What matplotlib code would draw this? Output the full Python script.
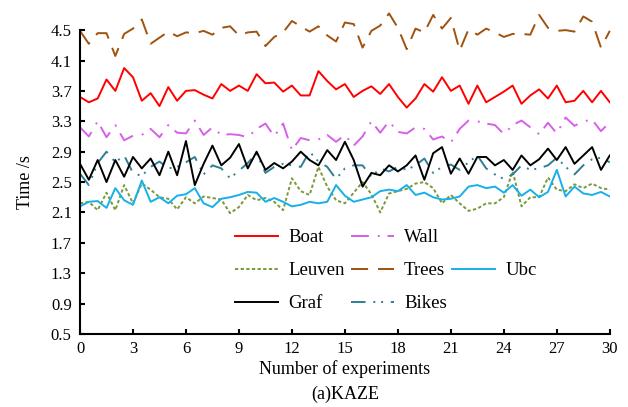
import matplotlib.pyplot as plt
import matplotlib.ticker as mticker
from matplotlib.lines import Line2D
import numpy as np

plt.rcParams['font.family'] = ['Liberation Serif', 'DejaVu Serif']

# experiment index, half steps from 0 to 30
runs = np.linspace(0, 30, 61)

boat = [3.62, 3.55, 3.60, 3.85, 3.70, 4.00, 3.88, 3.57, 3.67, 3.50,
        3.75, 3.57, 3.70, 3.71, 3.65, 3.60, 3.79, 3.70, 3.77, 3.70,
        3.92, 3.80, 3.81, 3.69, 3.77, 3.64, 3.64, 3.96, 3.83, 3.72,
        3.79, 3.62, 3.70, 3.76, 3.66, 3.79, 3.62, 3.48, 3.60, 3.79,
        3.69, 3.88, 3.70, 3.77, 3.53, 3.77, 3.55, 3.62, 3.69, 3.77,
        3.53, 3.64, 3.72, 3.60, 3.77, 3.55, 3.57, 3.70, 3.55, 3.70,
        3.55]
wall = [3.22, 3.10, 3.30, 3.09, 3.25, 3.05, 3.11, 3.12, 3.20, 3.09,
        3.25, 3.15, 3.14, 3.31, 3.12, 3.22, 3.12, 3.13, 3.12, 3.09,
        3.20, 3.27, 3.10, 3.27, 2.92, 3.08, 3.05, 3.06, 3.12, 3.03,
        3.12, 2.98, 3.10, 3.30, 3.15, 3.30, 3.16, 3.14, 3.22, 3.20,
        3.06, 3.10, 3.02, 3.20, 3.31, 3.30, 3.27, 3.25, 3.13, 3.25,
        3.31, 3.22, 3.13, 3.28, 3.14, 3.35, 3.24, 3.30, 3.32, 3.17,
        3.29]
leuven = [2.22, 2.24, 2.13, 2.36, 2.13, 2.46, 2.22, 2.48, 2.40, 2.30,
          2.28, 2.14, 2.30, 2.22, 2.31, 2.29, 2.27, 2.09, 2.17, 2.33,
          2.26, 2.29, 2.24, 2.13, 2.55, 2.38, 2.33, 2.70, 2.44, 2.26,
          2.22, 2.36, 2.50, 2.34, 2.10, 2.35, 2.38, 2.41, 2.48, 2.50,
          2.42, 2.22, 2.33, 2.22, 2.12, 2.15, 2.22, 2.22, 2.30, 2.64,
          2.18, 2.30, 2.30, 2.56, 2.40, 2.38, 2.47, 2.42, 2.48, 2.42,
          2.40]
trees = [4.49, 4.32, 4.46, 4.46, 4.16, 4.45, 4.52, 4.64, 4.32, 4.40,
         4.48, 4.42, 4.47, 4.46, 4.49, 4.44, 4.53, 4.55, 4.43, 4.47,
         4.48, 4.29, 4.41, 4.47, 4.62, 4.55, 4.48, 4.55, 4.43, 4.35,
         4.60, 4.58, 4.27, 4.49, 4.56, 4.72, 4.53, 4.25, 4.52, 4.47,
         4.70, 4.52, 4.66, 4.23, 4.51, 4.44, 4.52, 4.47, 4.41, 4.45,
         4.45, 4.44, 4.70, 4.53, 4.49, 4.50, 4.48, 4.68, 4.61, 4.27,
         4.49]
ubc = [2.18, 2.24, 2.25, 2.16, 2.42, 2.26, 2.20, 2.52, 2.24, 2.30,
       2.22, 2.32, 2.34, 2.42, 2.22, 2.17, 2.28, 2.30, 2.33, 2.37,
       2.36, 2.24, 2.29, 2.24, 2.18, 2.20, 2.24, 2.22, 2.24, 2.46,
       2.32, 2.24, 2.27, 2.30, 2.38, 2.40, 2.38, 2.46, 2.33, 2.36,
       2.30, 2.27, 2.28, 2.31, 2.44, 2.46, 2.42, 2.44, 2.36, 2.46,
       2.32, 2.40, 2.30, 2.37, 2.66, 2.31, 2.44, 2.35, 2.33, 2.37,
       2.31]
graf = [2.74, 2.53, 2.79, 2.50, 2.79, 2.57, 2.83, 2.68, 2.81, 2.59,
        2.90, 2.59, 3.04, 2.46, 2.74, 2.98, 2.72, 2.82, 3.00, 2.68,
        2.90, 2.66, 2.75, 2.68, 2.77, 2.90, 2.79, 2.72, 2.92, 2.79,
        3.03, 2.79, 2.44, 2.62, 2.59, 2.72, 2.64, 2.72, 2.85, 2.53,
        2.88, 2.96, 2.61, 2.81, 2.61, 2.83, 2.83, 2.72, 2.79, 2.66,
        2.85, 2.72, 2.80, 2.94, 2.79, 2.96, 2.74, 2.85, 2.96, 2.66,
        2.85]
bikes = [2.61, 2.46, 2.75, 2.90, 2.76, 2.85, 2.62, 2.58, 2.70, 2.77,
         2.68, 2.70, 2.76, 2.83, 2.60, 2.72, 2.68, 2.55, 2.65, 2.75,
         2.88, 2.62, 2.70, 2.74, 2.72, 2.70, 2.90, 2.77, 2.70, 2.54,
         2.68, 2.72, 2.72, 2.57, 2.68, 2.64, 2.70, 2.66, 2.72, 2.81,
         2.62, 2.70, 2.73, 2.66, 2.76, 2.85, 2.68, 2.60, 2.54, 2.60,
         2.72, 2.66, 2.68, 2.72, 2.82, 2.70, 2.60, 2.72, 2.80, 2.82,
         2.76]

yticks = [0.5, 0.9, 1.3, 1.7, 2.1, 2.5, 2.9, 3.3, 3.7, 4.1, 4.5]
xticks = [0, 3, 6, 9, 12, 15, 18, 21, 24, 27, 30]

fig = plt.figure(figsize=(6.28, 4.07), dpi=100)
ax = fig.add_axes([0.1274, 0.1794, 0.8436, 0.7466])

lw = 1.4
l_leu, = ax.plot(runs, leuven, color='#7a9a3a', lw=lw, ls=(0, (1.7, 1.2)), label='Leuven')
l_ubc, = ax.plot(runs, ubc, color='#16b0ea', lw=lw, label='Ubc')
l_bik, = ax.plot(runs, bikes, color='#2e7f95', lw=lw,
                 ls=(0, (7.5, 4, 1, 3, 1, 4)), label='Bikes')
l_graf, = ax.plot(runs, graf, color='black', lw=lw, label='Graf')
l_wall, = ax.plot(runs, wall, color='#d660e8', lw=lw, ls=(0, (9.2, 4.6, 1, 4)), label='Wall')
l_boat, = ax.plot(runs, boat, color='#ff0000', lw=lw, label='Boat')
# Trees runs above the top of the y range, so it is not clipped
l_tree, = ax.plot(runs, trees, color='#a0520e', lw=lw, ls=(0, (8.8, 5.1)),
                  label='Trees', clip_on=False)

ax.set_xlim(0, 30)
ax.set_ylim(0.5, 4.5)
ax.set_xticks(xticks)
ax.set_yticks(yticks)
ax.yaxis.set_major_formatter(mticker.FormatStrFormatter('%.1f'))
for s in ['top', 'right']:
    ax.spines[s].set_visible(False)
for s in ['left', 'bottom']:
    ax.spines[s].set_linewidth(1.5)
ax.tick_params(direction='in', length=3.5, width=1.5, labelsize=12)
ax.tick_params(axis='y', pad=6)
ax.tick_params(axis='x', pad=5)

fig.text(26 / 628, 1 - 182 / 407, 'Time /s', rotation=90, ha='center', va='center', fontsize=13)
fig.text(345 / 628, 1 - 369 / 407, 'Number of experiments', ha='center', va='center', fontsize=13)
fig.text(345 / 628, 1 - 394 / 407, '(a)KAZE', ha='center', va='center', fontsize=13)

# empty slots so Ubc sits alone in the middle of the third column
blank = Line2D([], [], color='none')
handles = [l_boat, l_leu, l_graf, l_wall, l_tree, l_bik, blank, l_ubc, blank]
labels = ['Boat', 'Leuven', 'Graf', 'Wall', 'Trees', 'Bikes', '', 'Ubc', '']
ax.legend(handles, labels, ncol=3, loc='upper left', bbox_to_anchor=(0.2925, 0.345),
          frameon=False, fontsize=13.5, borderpad=0, borderaxespad=0,
          handlelength=2.3, handletextpad=0.55, columnspacing=0.3, labelspacing=0.85)

fig.savefig('out.png', dpi=100)
